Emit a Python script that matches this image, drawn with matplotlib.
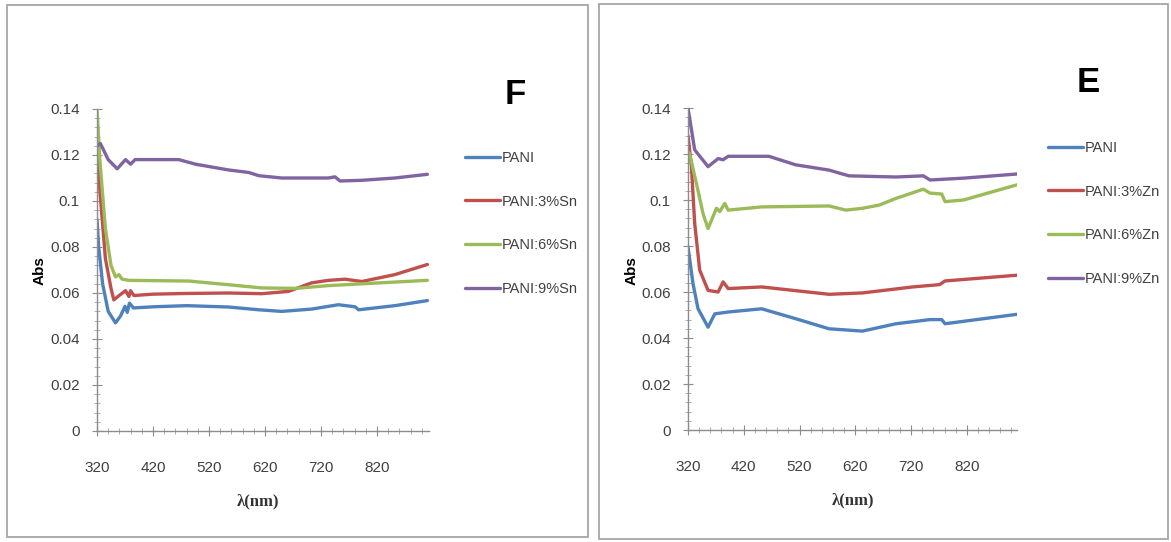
import matplotlib
matplotlib.use("Agg")
import matplotlib.pyplot as plt
from matplotlib.patches import Rectangle
from matplotlib.ticker import MultipleLocator

plt.rcParams['font.family'] = ['Liberation Sans', 'DejaVu Sans']

# ---- panel F : PANI doped with Sn ----
f_pani_x = [320, 323, 330, 340, 353, 362, 370, 374, 378, 385, 420, 480, 555, 609, 650, 703, 751, 781, 787, 852, 910]
f_pani_y = [0.092, 0.080, 0.064, 0.052, 0.047, 0.050, 0.0542, 0.0516, 0.0556, 0.0535, 0.0540, 0.0545,
            0.0539, 0.0527, 0.0520, 0.0530, 0.0549, 0.0540, 0.0527, 0.0545, 0.0567]

f_sn3_x = [320, 325, 335, 345, 350, 360, 371, 377, 380, 386, 420, 480, 555, 614, 662, 703, 733, 763, 793, 852, 910]
f_sn3_y = [0.135, 0.105, 0.075, 0.062, 0.057, 0.059, 0.061, 0.0585, 0.061, 0.0589, 0.0595, 0.0598,
           0.0600, 0.0597, 0.0607, 0.0644, 0.0655, 0.0660, 0.0650, 0.0680, 0.0724]

f_sn6_x = [320, 325, 335, 345, 353, 359, 365, 377, 484, 555, 614, 674, 733, 793, 910]
f_sn6_y = [0.140, 0.118, 0.088, 0.072, 0.067, 0.068, 0.066, 0.0655, 0.0652, 0.0636, 0.0622, 0.0620,
           0.0632, 0.0640, 0.0655]

f_sn9_x = [320, 326, 340, 356, 371, 380, 388, 466, 496, 555, 591, 609, 650, 733, 745, 754, 793, 852, 910]
f_sn9_y = [0.124, 0.125, 0.118, 0.114, 0.118, 0.116, 0.118, 0.118, 0.116, 0.1135, 0.1124, 0.111,
           0.110, 0.110, 0.1105, 0.1087, 0.109, 0.110, 0.1116]

# ---- panel E : PANI doped with Zn ----
e_pani_x = [320, 329, 338, 356, 368, 392, 452, 513, 573, 633, 693, 754, 775, 781, 910]
e_pani_y = [0.0796, 0.0636, 0.0527, 0.0447, 0.0505, 0.0513, 0.0527, 0.0484, 0.0440, 0.0430, 0.0462,
            0.0480, 0.0480, 0.0462, 0.0503]

e_zn3_x = [320, 326, 332, 341, 356, 374, 383, 392, 452, 573, 633, 723, 771, 781, 910]
e_zn3_y = [0.128, 0.115, 0.0898, 0.0695, 0.0607, 0.0600, 0.0644, 0.0615, 0.0622, 0.0590, 0.0596,
           0.0622, 0.0632, 0.0648, 0.0673]

e_zn6_x = [320, 323, 338, 347, 356, 371, 377, 386, 392, 452, 573, 603, 633, 663, 693, 742, 754, 775, 781, 814, 910]
e_zn6_y = [0.121, 0.120, 0.104, 0.094, 0.0876, 0.0964, 0.0950, 0.0985, 0.0956, 0.0970, 0.0974, 0.0956,
           0.0964, 0.0978, 0.1007, 0.1047, 0.1030, 0.1026, 0.0993, 0.1000, 0.1066]

e_zn9_x = [320, 332, 356, 374, 383, 392, 465, 513, 573, 597, 609, 693, 742, 754, 814, 910]
e_zn9_y = [0.140, 0.1218, 0.1145, 0.118, 0.1175, 0.119, 0.119, 0.1153, 0.113, 0.1113, 0.1105, 0.110,
           0.1105, 0.1087, 0.1095, 0.1113]

labels_f = ["PANI", "PANI:3%Sn", "PANI:6%Sn", "PANI:9%Sn"]
labels_e = ["PANI", "PANI:3%Zn", "PANI:6%Zn", "PANI:9%Zn"]
colors = ["#4F81BD", "#C0504D", "#9BBB59", "#8064A2"]
xticks = [320, 420, 520, 620, 720, 820]

W, H = 1171, 542
fig = plt.figure(figsize=(W / 100, H / 100), dpi=100)


def px_box(x0, x1, y_top, y_bot):
    return [x0 / W, 1 - y_bot / H, (x1 - x0) / W, (y_bot - y_top) / H]


def style_axes(ax, xmax):
    ax.set_xlim(320, xmax)
    ax.set_ylim(0, 0.14)
    for s in ["top", "right"]:
        ax.spines[s].set_visible(False)
    for s in ["left", "bottom"]:
        ax.spines[s].set_color("#8c8c8c")
        ax.spines[s].set_linewidth(1.0)
    ax.set_xticks(xticks)
    ax.set_xticklabels([str(t) for t in xticks])
    ax.xaxis.set_minor_locator(MultipleLocator(20))
    ax.set_yticks([0, 0.02, 0.04, 0.06, 0.08, 0.1, 0.12, 0.14])
    ax.set_yticklabels(["0", "0.02", "0.04", "0.06", "0.08", "0.1", "0.12", "0.14"])
    ax.yaxis.set_minor_locator(MultipleLocator(0.004))
    ax.tick_params(axis="x", which="major", direction="inout", length=7, color="#8c8c8c",
                   labelsize=11, pad=18, labelcolor="#404040")
    ax.tick_params(axis="y", which="major", direction="inout", length=7, color="#8c8c8c",
                   labelsize=11, pad=9, labelcolor="#404040")
    ax.tick_params(which="minor", direction="inout", length=4, color="#a0a0a0")
    ax.set_facecolor("none")


def draw_panel(box, xmax, series, labels, letter, letter_xy, legend_xy, abs_x, xlabel_xy):
    ax = fig.add_axes(box)
    for (x, y), lab, c in zip(series, labels, colors):
        ax.plot(x, y, color=c, lw=2.4, label=lab, solid_capstyle="round")
    style_axes(ax, xmax)
    fig.text(abs_x / W, 1 - 271 / H, "Abs", rotation=90, ha="center", va="center",
             fontsize=11, fontweight="bold")
    fig.text(xlabel_xy[0] / W, 1 - xlabel_xy[1] / H, "λ(nm)", ha="center", va="center",
             fontsize=12, fontweight="bold", family=["Liberation Serif", "DejaVu Serif"],
             color="#333333")
    fig.text(letter_xy[0] / W, 1 - letter_xy[1] / H, letter, ha="center", va="center",
             fontsize=25, fontweight="bold")
    fig.legend(*ax.get_legend_handles_labels(), loc="center left",
               bbox_to_anchor=(legend_xy[0] / W, 1 - legend_xy[1] / H),
               frameon=False, fontsize=10.5, labelspacing=2.05, handlelength=2.4,
               handletextpad=0.1, borderpad=0, borderaxespad=0, labelcolor="#404040")
    return ax


draw_panel(px_box(97, 428.5, 109, 431), 912,
           [(f_pani_x, f_pani_y), (f_sn3_x, f_sn3_y), (f_sn6_x, f_sn6_y), (f_sn9_x, f_sn9_y)],
           labels_f, "F", (515, 95), (465, 223.5), 40, (258, 501))

draw_panel(px_box(688, 1017, 108, 430), 910,
           [(e_pani_x, e_pani_y), (e_zn3_x, e_zn3_y), (e_zn6_x, e_zn6_y), (e_zn9_x, e_zn9_y)],
           labels_e, "E", (1088, 83), (1048, 213.5), 632, (853, 500))

# chart area frames
for x0, y0, x1, y1 in [(7, 5, 588, 537), (599, 4, 1168, 539)]:
    fig.patches.append(Rectangle((x0 / W, 1 - y1 / H), (x1 - x0) / W, (y1 - y0) / H,
                                 transform=fig.transFigure, fill=False,
                                 edgecolor="#a6a6a6", lw=1.3))

fig.savefig("out.png", dpi=100)
